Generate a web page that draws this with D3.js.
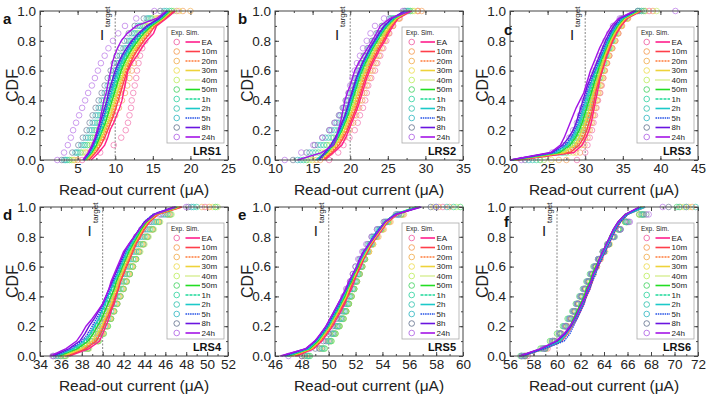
<!DOCTYPE html>
<html><head><meta charset="utf-8">
<script src="https://cdn.jsdelivr.net/npm/d3@7"></script>
<style>
body{margin:0;background:#fff;}
svg{display:block;font-family:Arial,"Liberation Sans",sans-serif;}
</style>
</head><body>
<svg id="chart" width="707" height="400"></svg>
<script>
// ---------- shared data ----------
const seriesNames = ["EA","10m","20m","30m","40m","50m","1h","2h","5h","8h","24h"];
const cdfLevels = [0,0.05,0.1,0.15,0.2,0.25,0.3,0.35,0.4,0.45,0.5,0.55,0.6,0.65,0.7,0.75,0.8,0.85,0.9,0.95,1.0];
const yTickValues = [0,0.2,0.4,0.6,0.8,1.0];
const panelLetters = ["a","b","c","d","e","f"];
const panelNames = ["LRS1","LRS2","LRS3","LRS4","LRS5","LRS6"];
const xDomains = [[0,25],[10,35],[20,45],[34,52],[46,60],[56,72]];
const xTickLists = [[0,5,10,15,20,25],[10,15,20,25,30,35],[20,25,30,35,40,45],
  [34,36,38,40,42,44,46,48,50,52],[46,48,50,52,54,56,58,60],[56,58,60,62,64,66,68,70,72]];
const targetCurrents = [10,20,30,40,50,60];

// ---------- LRS1 ----------
const lrs1Exp = [
 [5.6,8.0,9.8,10.8,11.4,11.7,11.9,12.1,12.2,12.4,12.6,12.8,12.9,13.1,13.3,13.6,14.0,14.4,15.0,16.0,18.2],
 [5.0,6.6,7.6,8.4,9.0,9.5,10.0,10.5,10.9,11.3,11.6,11.9,12.2,12.5,12.8,13.2,13.6,14.1,14.8,15.8,19.0],
 [4.6,6.2,7.2,7.9,8.5,9.0,9.4,9.8,10.2,10.6,11.0,11.3,11.7,12.0,12.4,12.8,13.3,13.8,14.5,15.6,20.0],
 [4.4,6.0,6.9,7.6,8.1,8.6,9.0,9.4,9.8,10.2,10.6,11.0,11.3,11.7,12.1,12.5,13.0,13.6,14.3,15.4,18.5],
 [4.2,5.7,6.6,7.3,7.8,8.2,8.6,9.0,9.4,9.8,10.2,10.6,11.0,11.4,11.8,12.2,12.7,13.3,14.0,15.0,17.8],
 [3.9,5.4,6.3,7.0,7.5,7.9,8.3,8.7,9.1,9.5,9.9,10.3,10.7,11.1,11.5,11.9,12.4,13.0,13.8,14.8,17.5],
 [3.6,5.1,6.0,6.7,7.2,7.6,8.0,8.4,8.8,9.2,9.6,10.0,10.4,10.8,11.2,11.6,12.1,12.7,13.5,14.6,17.2],
 [3.4,4.9,5.8,6.4,6.9,7.3,7.7,8.1,8.5,8.9,9.3,9.7,10.1,10.5,10.9,11.4,11.9,12.5,13.3,14.4,16.8],
 [3.2,4.7,5.5,6.1,6.6,7.0,7.4,7.8,8.2,8.6,9.0,9.4,9.8,10.2,10.6,11.1,11.6,12.2,13.0,14.2,16.5],
 [2.9,4.3,5.1,5.7,6.2,6.6,7.0,7.4,7.8,8.2,8.6,9.0,9.4,9.8,10.2,10.7,11.2,11.8,12.6,13.8,16.0],
 [2.3,3.2,3.7,4.1,4.4,4.8,5.2,5.6,6.0,6.4,6.9,7.3,7.7,8.1,8.6,9.1,9.7,10.4,11.3,12.8,15.2]];
const lrs1Sim = [
 [6.8,7.8,8.6,9.0,9.3,9.8,10.2,10.6,10.9,11.1,11.3,11.5,11.7,12.2,12.9,13.5,14.2,15.1,15.5,16.8,18.0],
 [6.5,7.4,8.1,8.6,9.0,9.4,9.8,10.1,10.4,10.7,11.0,11.3,11.6,12.0,12.5,13.1,13.8,14.6,15.3,16.6,17.8],
 [6.3,7.2,7.9,8.4,8.8,9.2,9.6,9.9,10.2,10.5,10.8,11.1,11.4,11.8,12.3,12.9,13.6,14.4,15.2,16.5,17.6],
 [6.2,7.1,7.7,8.2,8.6,9.0,9.4,9.7,10.0,10.3,10.6,10.9,11.2,11.6,12.1,12.7,13.4,14.2,15.0,16.4,17.5],
 [6.1,7.0,7.6,8.1,8.5,8.9,9.2,9.5,9.8,10.1,10.4,10.7,11.0,11.4,11.9,12.5,13.2,14.0,14.9,16.3,17.4],
 [6.0,6.9,7.5,7.9,8.3,8.7,9.0,9.3,9.6,9.9,10.2,10.5,10.8,11.2,11.7,12.3,13.0,13.8,14.8,16.2,17.3],
 [5.9,6.8,7.3,7.8,8.2,8.5,8.8,9.1,9.4,9.7,10.0,10.3,10.6,11.0,11.5,12.1,12.8,13.6,14.6,16.1,17.2],
 [5.9,6.7,7.2,7.6,8.0,8.3,8.6,8.9,9.2,9.5,9.8,10.1,10.4,10.8,11.3,11.9,12.6,13.4,14.5,16.0,17.0],
 [5.8,6.6,7.1,7.5,7.9,8.2,8.5,8.8,9.0,9.3,9.6,9.9,10.2,10.6,11.1,11.7,12.4,13.3,14.4,15.9,17.0],
 [5.8,6.5,7.0,7.4,7.7,8.0,8.3,8.6,8.9,9.1,9.4,9.7,10.0,10.4,10.9,11.5,12.2,13.1,14.2,15.8,16.9],
 [5.7,6.4,6.9,7.3,7.6,7.9,8.1,8.3,8.5,8.8,9.0,9.2,9.4,9.6,9.9,10.3,10.8,11.6,12.8,15.5,16.8]];

// ---------- LRS2 ----------
const lrs2Exp = [
 [17.2,18.4,19.1,19.9,20.6,21.0,21.3,21.7,22.0,22.2,22.4,22.8,23.3,23.6,24.0,24.4,24.8,25.2,25.7,26.5,29.0],
 [16.0,17.4,18.3,19.2,19.9,20.4,20.8,21.2,21.6,21.9,22.2,22.6,23.0,23.4,23.8,24.2,24.6,25.1,25.7,26.6,29.5],
 [15.5,17.0,18.0,18.9,19.6,20.1,20.5,20.9,21.3,21.6,21.9,22.3,22.7,23.1,23.5,23.9,24.4,24.9,25.5,26.4,29.0],
 [15.0,16.6,17.7,18.6,19.3,19.8,20.2,20.6,21.0,21.3,21.6,22.0,22.4,22.8,23.2,23.7,24.2,24.7,25.3,26.2,28.5],
 [14.6,16.2,17.3,18.2,18.9,19.5,19.9,20.3,20.7,21.0,21.3,21.7,22.1,22.5,22.9,23.4,23.9,24.5,25.1,26.0,28.3],
 [14.2,15.8,16.9,17.8,18.6,19.2,19.6,20.0,20.4,20.7,21.0,21.4,21.8,22.2,22.7,23.2,23.7,24.3,25.0,25.9,28.0],
 [13.8,15.4,16.5,17.5,18.3,18.9,19.3,19.7,20.1,20.4,20.8,21.2,21.6,22.0,22.4,22.9,23.5,24.1,24.8,25.8,27.8],
 [13.4,15.0,16.1,17.1,17.9,18.5,19.0,19.4,19.8,20.2,20.6,21.0,21.4,21.8,22.2,22.7,23.3,23.9,24.6,25.6,27.6],
 [13.0,14.6,15.7,16.7,17.5,18.2,18.7,19.2,19.6,20.0,20.4,20.8,21.2,21.6,22.0,22.5,23.1,23.7,24.4,25.4,27.4],
 [12.4,14.2,15.3,16.3,17.2,17.9,18.5,19.0,19.4,19.8,20.2,20.6,21.0,21.4,21.8,22.3,22.9,23.5,24.2,25.2,27.2],
 [11.3,13.5,15.1,16.3,17.3,18.0,18.6,19.1,19.5,19.8,20.0,20.3,20.6,20.9,21.3,21.7,22.2,22.7,23.3,24.5,27.0]];
const lrs2Sim = [
 [16.6,17.8,18.9,19.4,19.8,20.2,20.6,21.0,21.3,21.6,21.9,22.2,22.6,23.0,23.5,24.0,24.6,25.1,25.7,26.4,28.2],
 [16.4,17.6,18.5,19.1,19.6,20.0,20.4,20.8,21.1,21.4,21.7,22.0,22.4,22.8,23.3,23.8,24.4,24.9,25.5,26.3,28.0],
 [16.2,17.4,18.3,18.9,19.4,19.8,20.2,20.6,20.9,21.2,21.5,21.8,22.2,22.6,23.1,23.6,24.2,24.8,25.4,26.2,27.9],
 [16.0,17.2,18.1,18.7,19.2,19.6,20.0,20.4,20.7,21.0,21.3,21.6,22.0,22.4,22.9,23.4,24.0,24.6,25.3,26.1,27.8],
 [15.8,17.0,17.9,18.5,19.0,19.4,19.8,20.2,20.5,20.8,21.1,21.4,21.8,22.2,22.7,23.2,23.8,24.4,25.1,26.0,27.7],
 [15.6,16.9,17.8,18.4,18.9,19.3,19.7,20.0,20.3,20.6,20.9,21.2,21.6,22.0,22.5,23.0,23.6,24.2,24.9,25.9,27.6],
 [15.5,16.8,17.7,18.3,18.8,19.2,19.6,19.9,20.2,20.5,20.8,21.1,21.5,21.9,22.4,22.9,23.5,24.1,24.8,25.8,27.5],
 [15.4,16.7,17.6,18.2,18.7,19.1,19.5,19.8,20.1,20.4,20.7,21.0,21.4,21.8,22.3,22.8,23.4,24.0,24.7,25.7,27.4],
 [16.0,16.8,17.5,18.1,18.6,19.0,19.4,19.7,20.0,20.3,20.6,20.9,21.3,21.7,22.2,22.7,23.3,23.9,24.6,25.6,27.3],
 [15.8,16.6,17.4,18.0,18.5,18.9,19.3,19.6,19.9,20.2,20.5,20.8,21.2,21.6,22.1,22.6,23.2,23.8,24.5,25.5,27.2],
 [13.0,16.2,17.8,18.2,18.4,18.7,18.9,19.1,19.3,19.6,20.0,20.3,20.6,21.1,21.7,22.3,22.9,23.5,24.0,25.3,28.0]];

// ---------- LRS3 ----------
const lrs3Exp = [
 [28.9,30.0,30.3,30.6,30.9,31.1,31.3,31.5,31.7,32.0,32.2,32.4,32.6,32.9,33.2,33.6,34.0,34.4,34.8,35.6,38.5],
 [27.5,29.3,29.9,30.3,30.6,30.9,31.1,31.4,31.6,31.9,32.1,32.4,32.6,32.9,33.2,33.6,34.0,34.4,34.9,35.7,39.0],
 [26.5,28.8,29.5,30.0,30.4,30.7,31.0,31.2,31.5,31.7,32.0,32.2,32.5,32.8,33.1,33.5,33.9,34.3,34.8,35.6,38.0],
 [25.5,28.4,29.2,29.7,30.1,30.5,30.8,31.0,31.3,31.6,31.8,32.1,32.4,32.7,33.0,33.4,33.8,34.2,34.7,35.5,37.5],
 [24.5,27.9,28.9,29.5,29.9,30.3,30.6,30.9,31.1,31.4,31.7,32.0,32.3,32.6,32.9,33.3,33.7,34.1,34.6,35.4,39.5],
 [24.0,27.5,28.6,29.2,29.7,30.1,30.4,30.7,31.0,31.3,31.6,31.9,32.2,32.5,32.8,33.2,33.6,34.0,34.5,35.3,37.8],
 [23.5,27.1,28.3,28.9,29.4,29.8,30.2,30.5,30.8,31.1,31.4,31.7,32.0,32.3,32.7,33.1,33.5,33.9,34.4,35.2,37.2],
 [23.0,26.8,28.0,28.7,29.2,29.6,30.0,30.3,30.6,30.9,31.2,31.5,31.8,32.2,32.6,33.0,33.4,33.8,34.3,35.1,37.0],
 [22.5,26.4,27.7,28.4,28.9,29.4,29.8,30.1,30.4,30.7,31.0,31.3,31.6,32.0,32.4,32.8,33.2,33.7,34.2,35.0,37.5],
 [22.0,26.0,27.4,28.1,28.7,29.1,29.5,29.9,30.2,30.5,30.8,31.1,31.4,31.8,32.2,32.6,33.0,33.5,34.0,34.8,37.0],
 [21.5,25.6,27.2,27.9,28.4,28.9,29.3,29.6,29.9,30.2,30.5,30.8,31.1,31.5,31.9,32.3,32.7,33.2,33.7,34.6,42.0]];
const lrs3Sim = [
 [21.0,28.5,29.6,30.1,30.5,30.8,31.0,31.2,31.4,31.6,31.8,32.0,32.3,32.6,32.9,33.3,33.7,34.2,34.8,35.6,37.5],
 [20.8,28.0,29.2,29.8,30.2,30.5,30.8,31.0,31.2,31.4,31.6,31.9,32.2,32.5,32.8,33.2,33.6,34.1,34.7,35.5,37.4],
 [20.6,27.6,28.9,29.5,29.9,30.2,30.5,30.8,31.0,31.2,31.5,31.8,32.1,32.4,32.7,33.1,33.5,34.0,34.6,35.4,37.3],
 [20.5,27.2,28.6,29.2,29.6,30.0,30.3,30.6,30.8,31.1,31.4,31.7,32.0,32.3,32.6,33.0,33.4,33.9,34.5,35.3,37.2],
 [20.4,26.9,28.3,28.9,29.4,29.8,30.1,30.4,30.7,31.0,31.3,31.6,31.9,32.2,32.5,32.9,33.3,33.8,34.4,35.2,37.1],
 [20.3,26.6,28.0,28.7,29.2,29.6,29.9,30.2,30.5,30.8,31.1,31.4,31.7,32.0,32.4,32.8,33.2,33.7,34.3,35.1,37.0],
 [20.2,26.3,27.8,28.5,29.0,29.4,29.7,30.0,30.3,30.6,30.9,31.2,31.5,31.9,32.3,32.7,33.1,33.6,34.2,35.0,36.9],
 [20.2,26.0,27.5,28.3,28.8,29.2,29.5,29.8,30.1,30.4,30.7,31.0,31.4,31.8,32.2,32.6,33.0,33.5,34.1,34.9,36.8],
 [20.1,25.8,27.3,28.1,28.6,29.0,29.3,29.6,29.9,30.2,30.5,30.9,31.3,31.7,32.1,32.5,32.9,33.4,34.0,34.8,36.7],
 [20.1,25.6,27.0,27.8,28.4,28.8,29.1,29.4,29.7,30.0,30.3,30.7,31.1,31.5,31.9,32.3,32.7,33.2,33.8,34.6,36.6],
 [20.0,25.4,26.7,27.2,27.6,28.0,28.4,28.8,29.3,29.8,30.1,30.4,30.7,31.1,31.5,31.9,32.4,32.9,33.5,34.4,36.5]];

// ---------- LRS4 ----------
const lrs4Exp = [
 [36.3,38.6,39.5,40.0,40.4,40.8,41.1,41.4,41.7,42.0,42.3,42.6,42.9,43.2,43.5,43.9,44.3,44.8,45.4,46.4,49.8],
 [36.0,38.4,39.4,39.9,40.3,40.7,41.0,41.3,41.6,41.9,42.2,42.5,42.8,43.1,43.4,43.8,44.2,44.7,45.3,46.3,50.2],
 [35.8,38.3,39.3,39.9,40.3,40.6,40.9,41.2,41.5,41.8,42.1,42.4,42.7,43.0,43.3,43.7,44.1,44.6,45.2,46.2,49.5],
 [36.2,38.5,39.5,40.0,40.4,40.7,41.0,41.3,41.6,41.9,42.2,42.5,42.8,43.1,43.4,43.8,44.2,44.7,45.3,46.4,50.5],
 [36.5,38.7,39.6,40.1,40.5,40.8,41.1,41.4,41.7,42.0,42.3,42.6,42.9,43.2,43.6,44.0,44.4,44.9,45.5,46.6,51.0],
 [36.4,38.6,39.6,40.1,40.5,40.8,41.1,41.4,41.7,42.0,42.3,42.6,42.9,43.2,43.5,43.9,44.3,44.8,45.4,46.5,50.8],
 [36.0,38.3,39.3,39.8,40.2,40.5,40.8,41.1,41.4,41.7,42.0,42.3,42.6,42.9,43.2,43.6,44.0,44.5,45.1,46.2,49.0],
 [35.7,38.0,39.0,39.6,40.0,40.3,40.6,40.9,41.2,41.5,41.8,42.1,42.4,42.7,43.0,43.4,43.8,44.3,44.9,46.0,48.7],
 [35.5,37.8,38.8,39.4,39.8,40.1,40.4,40.7,41.0,41.3,41.6,41.9,42.2,42.5,42.8,43.2,43.6,44.1,44.7,45.8,48.5],
 [35.3,37.5,38.5,39.1,39.5,39.9,40.2,40.5,40.8,41.1,41.4,41.7,42.0,42.3,42.6,43.0,43.4,43.9,44.5,45.6,48.2],
 [35.2,37.2,38.2,38.8,39.3,39.7,40.0,40.3,40.6,40.9,41.2,41.5,41.8,42.1,42.4,42.8,43.2,43.7,44.3,45.4,48.0]];
const lrs4Sim = [
 [36.8,38.7,39.7,40.0,40.3,40.6,40.8,41.1,41.3,41.5,41.7,42.0,42.2,42.5,42.8,43.1,43.5,43.9,44.4,45.2,47.5],
 [36.6,38.4,39.4,39.8,40.1,40.4,40.7,41.0,41.2,41.5,41.7,42.0,42.3,42.6,42.9,43.2,43.6,44.0,44.5,45.3,47.6],
 [36.4,38.2,39.2,39.7,40.0,40.3,40.6,40.9,41.1,41.4,41.6,41.9,42.2,42.5,42.8,43.1,43.5,43.9,44.4,45.2,47.4],
 [36.2,38.0,39.0,39.5,39.9,40.2,40.5,40.8,41.0,41.3,41.5,41.8,42.1,42.4,42.7,43.0,43.4,43.8,44.3,45.1,47.3],
 [36.0,37.8,38.8,39.3,39.7,40.0,40.3,40.6,40.9,41.2,41.4,41.7,42.0,42.3,42.6,42.9,43.3,43.7,44.2,45.0,47.2],
 [35.8,37.6,38.6,39.1,39.5,39.9,40.2,40.5,40.8,41.1,41.3,41.6,41.9,42.2,42.5,42.9,43.3,43.7,44.2,45.0,47.1],
 [35.7,37.4,38.4,38.9,39.3,39.7,40.0,40.3,40.6,40.9,41.2,41.5,41.8,42.1,42.4,42.8,43.2,43.6,44.1,44.9,47.0],
 [35.5,37.2,38.2,38.8,39.2,39.6,39.9,40.2,40.5,40.8,41.1,41.4,41.7,42.0,42.3,42.7,43.1,43.5,44.0,44.9,47.0],
 [35.4,37.0,38.0,38.6,39.0,39.4,39.8,40.1,40.4,40.7,41.0,41.3,41.6,41.9,42.2,42.6,43.0,43.5,44.0,44.8,46.9],
 [35.2,36.8,37.8,38.3,38.7,39.2,39.6,40.0,40.3,40.6,40.9,41.2,41.5,41.8,42.1,42.5,43.0,43.5,44.0,44.9,46.8],
 [35.0,36.5,37.5,38.0,38.4,39.0,39.5,40.0,40.3,40.6,40.8,41.1,41.4,41.7,42.0,42.5,43.0,43.5,44.1,45.0,47.0]];

// ---------- LRS5 ----------
const lrs5Exp = [
 [48.0,49.3,49.9,50.3,50.6,50.9,51.2,51.4,51.6,51.8,52.0,52.2,52.4,52.6,52.9,53.2,53.6,54.0,54.5,55.5,58.5],
 [48.2,49.4,50.0,50.4,50.7,51.0,51.3,51.5,51.7,51.9,52.1,52.3,52.5,52.7,53.0,53.3,53.6,54.0,54.5,55.4,59.0],
 [48.4,49.5,50.1,50.5,50.8,51.1,51.3,51.5,51.7,51.9,52.1,52.3,52.5,52.7,53.0,53.3,53.7,54.1,54.6,55.6,58.2],
 [48.3,49.5,50.1,50.4,50.7,51.0,51.2,51.4,51.6,51.8,52.0,52.2,52.4,52.7,53.0,53.3,53.6,54.0,54.5,55.5,57.8],
 [48.5,49.7,50.2,50.5,50.8,51.1,51.3,51.5,51.7,51.9,52.0,52.2,52.4,52.6,52.8,53.1,53.5,53.9,54.4,55.3,59.5],
 [48.6,49.7,50.2,50.5,50.8,51.1,51.3,51.5,51.7,51.9,52.1,52.3,52.5,52.7,52.9,53.2,53.5,53.9,54.4,55.4,59.8],
 [48.5,49.6,50.1,50.4,50.7,51.0,51.2,51.4,51.6,51.8,52.0,52.2,52.4,52.6,52.8,53.1,53.4,53.8,54.3,55.2,59.3],
 [48.4,49.5,50.0,50.3,50.6,50.9,51.1,51.3,51.5,51.7,51.9,52.1,52.3,52.5,52.8,53.1,53.4,53.8,54.3,55.2,58.8],
 [48.2,49.3,49.8,50.2,50.5,50.8,51.0,51.2,51.4,51.6,51.8,52.0,52.2,52.4,52.7,53.0,53.3,53.7,54.2,55.1,58.0],
 [48.0,49.0,49.6,50.0,50.3,50.6,50.8,51.0,51.2,51.4,51.6,51.8,52.0,52.3,52.6,52.9,53.2,53.6,54.1,55.0,57.6],
 [47.0,48.6,49.2,49.7,50.0,50.3,50.6,50.9,51.1,51.3,51.6,51.8,52.0,52.2,52.5,52.8,53.2,53.6,54.2,55.2,58.0]];
const lrs5Sim = [
 [47.6,48.9,49.5,49.9,50.3,50.6,50.9,51.2,51.4,51.7,51.9,52.1,52.4,52.6,52.9,53.2,53.6,54.0,54.4,55.1,56.6],
 [47.5,48.8,49.4,49.8,50.2,50.5,50.8,51.1,51.4,51.6,51.8,52.1,52.3,52.6,52.9,53.2,53.5,53.9,54.4,55.1,56.7],
 [47.3,48.8,49.4,49.8,50.2,50.5,50.8,51.0,51.3,51.5,51.8,52.0,52.3,52.5,52.8,53.1,53.5,53.9,54.3,55.0,56.5],
 [47.2,48.7,49.3,49.7,50.1,50.4,50.7,51.0,51.3,51.5,51.7,52.0,52.2,52.5,52.8,53.1,53.5,53.9,54.3,55.0,56.8],
 [47.0,48.6,49.2,49.7,50.1,50.4,50.7,50.9,51.2,51.4,51.7,51.9,52.2,52.5,52.8,53.1,53.4,53.8,54.3,55.0,56.6],
 [47.0,48.6,49.2,49.6,50.0,50.3,50.6,50.9,51.2,51.4,51.7,51.9,52.2,52.4,52.7,53.0,53.4,53.8,54.2,54.9,56.5],
 [46.9,48.5,49.1,49.6,50.0,50.3,50.6,50.9,51.1,51.4,51.6,51.9,52.1,52.4,52.7,53.0,53.4,53.8,54.2,54.9,56.7],
 [46.8,48.5,49.1,49.5,49.9,50.2,50.5,50.8,51.1,51.3,51.6,51.8,52.1,52.4,52.7,53.0,53.3,53.7,54.2,54.9,56.6],
 [46.7,48.4,49.0,49.5,49.9,50.2,50.5,50.8,51.0,51.3,51.6,51.8,52.1,52.3,52.6,53.0,53.3,53.7,54.2,54.9,56.8],
 [46.5,48.3,49.0,49.4,49.8,50.1,50.4,50.7,51.0,51.3,51.5,51.8,52.1,52.3,52.6,53.0,53.4,53.8,54.2,55.0,56.9],
 [46.4,48.3,48.95,49.4,49.8,50.1,50.4,50.7,51.0,51.25,51.5,51.8,52.1,52.35,52.6,53.0,53.4,53.8,54.2,55.0,56.8]];

// ---------- LRS6 ----------
const lrs6Exp = [
 [57.5,59.2,59.8,60.4,60.9,61.3,61.6,61.9,62.2,62.5,62.8,63.1,63.4,63.7,64.0,64.4,64.8,65.3,65.9,67.2,71.0],
 [57.2,59.0,59.7,60.3,60.8,61.2,61.5,61.8,62.1,62.4,62.7,63.0,63.3,63.6,64.0,64.4,64.8,65.3,65.9,67.3,71.5],
 [57.0,58.9,59.6,60.2,60.7,61.1,61.5,61.8,62.1,62.4,62.7,63.0,63.3,63.6,63.9,64.3,64.7,65.2,65.8,67.0,70.5],
 [57.3,59.1,59.8,60.3,60.8,61.2,61.6,61.9,62.2,62.5,62.8,63.1,63.4,63.7,64.1,64.5,64.9,65.4,66.0,67.4,71.2],
 [57.0,58.7,59.5,60.1,60.6,61.0,61.4,61.7,62.0,62.3,62.6,62.9,63.2,63.5,63.9,64.3,64.7,65.2,65.8,67.1,70.8],
 [56.9,58.6,59.4,60.0,60.5,60.9,61.3,61.6,61.9,62.2,62.5,62.8,63.1,63.5,63.9,64.3,64.7,65.2,65.8,67.0,70.2],
 [57.1,58.9,59.6,60.2,60.7,61.1,61.4,61.7,62.0,62.3,62.6,62.9,63.2,63.6,64.0,64.4,64.8,65.3,65.9,67.2,70.4],
 [57.0,58.8,59.6,60.2,60.6,61.0,61.4,61.7,62.0,62.3,62.6,62.9,63.2,63.5,63.9,64.3,64.8,65.3,65.9,67.3,71.8],
 [57.2,59.0,59.7,60.3,60.7,61.1,61.5,61.8,62.1,62.4,62.7,63.0,63.3,63.6,64.0,64.4,64.9,65.4,66.0,67.4,71.0],
 [57.3,59.0,59.8,60.3,60.8,61.2,61.5,61.8,62.1,62.4,62.7,63.0,63.3,63.6,64.0,64.4,64.8,65.4,66.1,67.6,69.5],
 [57.0,58.8,59.6,60.2,60.7,61.1,61.4,61.7,62.0,62.3,62.6,62.9,63.2,63.5,63.9,64.3,64.8,65.4,66.2,67.8,69.0]];
const lrs6Sim = [
 [57.0,59.0,60.4,60.9,61.3,61.7,62.0,62.3,62.5,62.8,63.0,63.2,63.5,63.8,64.1,64.4,64.7,65.0,65.4,66.0,67.5],
 [56.9,58.9,60.3,60.8,61.2,61.6,61.9,62.2,62.5,62.7,63.0,63.2,63.5,63.7,64.0,64.3,64.6,65.0,65.4,66.0,67.4],
 [57.1,59.0,60.3,60.9,61.3,61.6,61.9,62.2,62.4,62.7,62.9,63.2,63.4,63.7,64.0,64.3,64.6,64.9,65.3,65.9,67.3],
 [56.9,58.8,60.2,60.8,61.2,61.5,61.8,62.1,62.4,62.6,62.9,63.1,63.4,63.7,64.0,64.3,64.6,64.9,65.3,65.9,67.2],
 [57.0,58.9,60.2,60.7,61.1,61.5,61.8,62.1,62.3,62.6,62.8,63.1,63.3,63.6,63.9,64.2,64.5,64.9,65.3,65.9,67.4],
 [56.8,58.7,60.1,60.7,61.1,61.4,61.7,62.0,62.3,62.5,62.8,63.0,63.3,63.6,63.9,64.2,64.5,64.8,65.2,65.8,67.2],
 [56.9,58.8,60.2,60.8,61.2,61.5,61.8,62.1,62.4,62.6,62.9,63.1,63.4,63.6,63.9,64.2,64.5,64.9,65.3,65.9,67.3],
 [57.0,58.9,60.3,60.8,61.2,61.6,61.9,62.2,62.4,62.7,62.9,63.2,63.4,63.7,64.0,64.3,64.6,64.9,65.3,66.0,67.5],
 [57.1,59.0,60.6,61.1,61.4,61.7,62.0,62.3,62.5,62.8,63.0,63.3,63.5,63.8,64.1,64.4,64.7,65.0,65.4,66.0,67.2],
 [56.9,58.7,60.0,60.7,61.2,61.5,61.8,62.1,62.4,62.6,62.9,63.1,63.4,63.6,63.9,64.2,64.5,64.8,65.2,65.8,67.0],
 [56.8,58.6,59.9,60.6,61.1,61.5,61.8,62.1,62.4,62.6,62.9,63.1,63.4,63.6,63.9,64.2,64.5,64.8,65.2,65.8,67.0]];

const expData = [lrs1Exp,lrs2Exp,lrs3Exp,lrs4Exp,lrs5Exp,lrs6Exp];
const simData = [lrs1Sim,lrs2Sim,lrs3Sim,lrs4Sim,lrs5Sim,lrs6Sim];

// ---------- styles ----------
const lineColors = ["#ff1e8c","#ff3f4a","#ff7b3a","#eed23a","#b5e03a","#22dd22","#1ed99a","#1cc9c9","#2350e6","#6a14e0","#a414e6"];
const circleColors = ["#f06aa8","#f5a05a","#f2b25a","#eede5a","#c2ee6a","#4ed66a","#3ed6a6","#3ec6b4","#42bcc6","#6e7c96","#b46ee6"];
const lineDash = [null,null,"2,1",null,"1,1",null,"3,1",null,"1.5,0.8",null,null];

// ---------- layout ----------
const W = 188, H = 149;
const origins = [[40,11],[275,11],[510,11],[40,207],[275,207],[510,207]];
const svg = d3.select("#chart");
const fmtY = d3.format(".1f");

origins.forEach((o, i) => {
  const g = svg.append("g").attr("transform", `translate(${o[0]},${o[1]})`);
  const x = d3.scaleLinear().domain(xDomains[i]).range([0, W]);
  const y = d3.scaleLinear().domain([0, 1]).range([H, 0]);
  const ticks = xTickLists[i];
  const step = ticks[1] - ticks[0];
  const minorX = d3.range(xDomains[i][0], xDomains[i][1] + 1e-9, step / 2);
  const minorY = d3.range(0, 1.0001, 0.1);

  const axStyle = sel => { sel.select(".domain").remove(); sel.selectAll("line").attr("stroke", "#444"); sel.selectAll("text").attr("font-size", 13.5).attr("fill", "#222"); };

  // minor ticks (all sides, inward)
  g.append("g").attr("transform", `translate(0,${H})`).call(d3.axisBottom(x).tickValues(minorX).tickSize(-2).tickFormat("")).call(axStyle);
  g.append("g").call(d3.axisTop(x).tickValues(minorX).tickSize(-2).tickFormat("")).call(axStyle);
  g.append("g").call(d3.axisLeft(y).tickValues(minorY).tickSize(-2).tickFormat("")).call(axStyle);
  g.append("g").attr("transform", `translate(${W},0)`).call(d3.axisRight(y).tickValues(minorY).tickSize(-2).tickFormat("")).call(axStyle);
  // major ticks
  g.append("g").attr("transform", `translate(0,${H})`).call(d3.axisBottom(x).tickValues(ticks).tickSize(-4).tickPadding(3).tickFormat(d3.format("d"))).call(axStyle);
  g.append("g").call(d3.axisTop(x).tickValues(ticks).tickSize(-4).tickFormat("")).call(axStyle);
  g.append("g").call(d3.axisLeft(y).tickValues(yTickValues).tickSize(-4).tickPadding(4).tickFormat(fmtY)).call(axStyle);
  g.append("g").attr("transform", `translate(${W},0)`).call(d3.axisRight(y).tickValues(yTickValues).tickSize(-4).tickFormat("")).call(axStyle);

  // target line
  const tx = x(targetCurrents[i]);
  g.append("line").attr("x1", tx).attr("x2", tx).attr("y1", 0).attr("y2", H)
    .attr("stroke", "#777").attr("stroke-width", 0.9).attr("stroke-dasharray", "2,1.5");

  // exp circles
  expData[i].forEach((arr, s) => {
    g.append("g").selectAll("circle").data(arr).join("circle")
      .attr("cx", d => x(d)).attr("cy", (d, k) => y(cdfLevels[k])).attr("r", 2.8)
      .attr("fill", "none").attr("stroke", circleColors[s]).attr("stroke-width", 0.9).attr("opacity", 0.75);
  });
  // sim lines
  const line = d3.line().x(d => x(d[0])).y(d => y(d[1]));
  simData[i].forEach((arr, s) => {
    g.append("path").datum(arr.map((v, k) => [v, cdfLevels[k]]))
      .attr("d", line).attr("fill", "none").attr("stroke", lineColors[s])
      .attr("stroke-width", 1.4).attr("stroke-dasharray", lineDash[s]);
  });

  // frame
  g.append("rect").attr("width", W).attr("height", H).attr("fill", "none").attr("stroke", "#444").attr("stroke-width", 1);

  // I_target label
  g.append("text").attr("x", tx - 13).attr("y", 29).attr("font-size", 15).attr("text-anchor", "middle").attr("fill", "#222").text("I");
  g.append("text").attr("transform", `translate(${tx - 5},${16}) rotate(-90)`).attr("font-size", 8).attr("fill", "#222").text("target");

  // legend
  const lg = g.append("g").attr("transform", `translate(127,16)`);
  lg.append("rect").attr("width", 57).attr("height", 116).attr("fill", "#fff").attr("stroke", "#aaa").attr("stroke-width", 0.8);
  lg.append("text").attr("x", 4).attr("y", 8).attr("font-size", 6.5).attr("fill", "#222").text("Exp.");
  lg.append("text").attr("x", 19).attr("y", 8).attr("font-size", 6.5).attr("fill", "#222").text("Sim.");
  seriesNames.forEach((n, s) => {
    const ry = 15 + s * 9.5;
    lg.append("circle").attr("cx", 9.7).attr("cy", ry).attr("r", 2.8).attr("fill", "none").attr("stroke", circleColors[s]).attr("stroke-width", 0.9);
    lg.append("line").attr("x1", 18.5).attr("x2", 33).attr("y1", ry).attr("y2", ry).attr("stroke", lineColors[s]).attr("stroke-width", 1.6).attr("stroke-dasharray", lineDash[s]);
    lg.append("text").attr("x", 34.5).attr("y", ry + 2.8).attr("font-size", 8).attr("fill", "#222").text(n);
  });

  // LRS label
  g.append("text").attr("x", W - 7).attr("y", H - 5).attr("text-anchor", "end").attr("font-size", 11).attr("font-weight", "bold").attr("fill", "#111").text(panelNames[i]);

  // axis titles
  g.append("text").attr("x", W / 2).attr("y", H + 35).attr("text-anchor", "middle").attr("font-size", 15.5).attr("fill", "#222").text("Read-out current (μA)");
  g.append("text").attr("transform", `translate(-21.7,${H / 2}) rotate(-90)`).attr("text-anchor", "middle").attr("font-size", 16).attr("fill", "#222").text("CDF");

  // panel letter
  const col = i % 3;
  const letterY = col === 2 ? (i === 5 ? 20 : 24) : 12.5;
  g.append("text").attr("x", col === 2 ? -6 : -37).attr("y", letterY)
    .attr("font-size", 15).attr("font-weight", "bold").attr("fill", "#111").text(panelLetters[i]);
});
</script>
</body></html>
